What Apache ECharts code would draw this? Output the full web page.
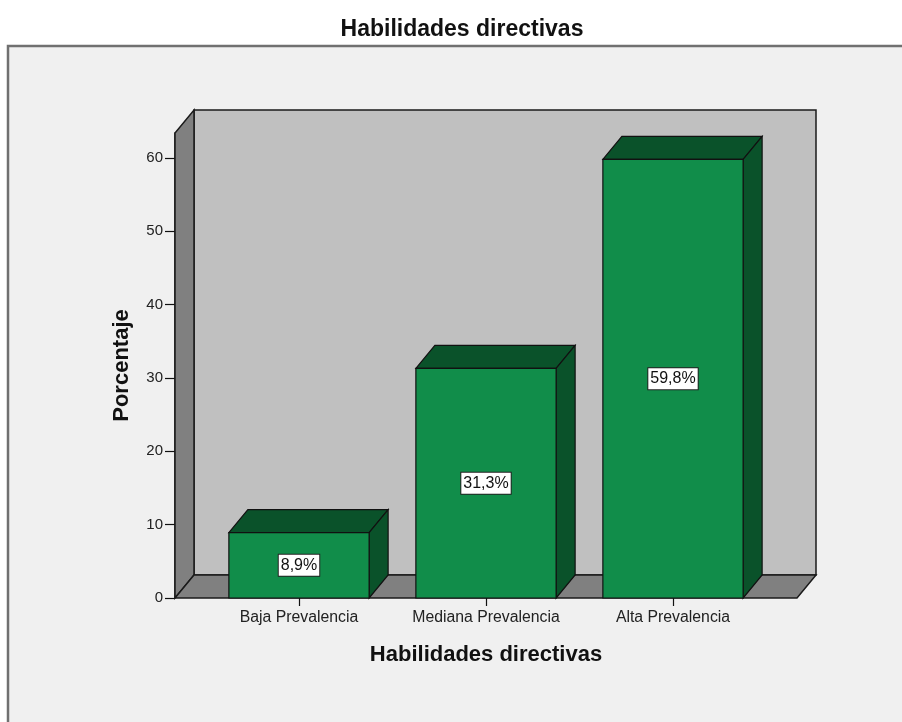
<!DOCTYPE html>
<html>
<head>
<meta charset="utf-8">
<script src="https://cdn.jsdelivr.net/npm/echarts@6/dist/echarts.min.js"></script>
<style>
  html, body { margin: 0; padding: 0; background: #fff; }
  #chart { width: 902px; height: 722px; }
</style>
</head>
<body>
<div id="chart"></div>
<script>
// datos del grafico
var categories = ['Baja Prevalencia', 'Mediana Prevalencia', 'Alta Prevalencia'];
var percentages = [8.9, 31.3, 59.8];
var yTicks = [0, 10, 20, 30, 40, 50, 60];

// profundidad del efecto 3D (px)
var DX = 19, DY = -23, EXT = 30.5;
var FONT = '"Liberation Sans", Arial, sans-serif';

function fmtPct(v) {
  return v.toFixed(1).replace('.', ',') + '%';
}

// paredes y piso
function renderWalls(params, api) {
  var cs = params.coordSys;
  var L = cs.x - EXT, R = cs.x + cs.width + EXT, T = cs.y, B = cs.y + cs.height;
  var line = { stroke: '#1a1a1a', lineWidth: 1.5 };
  return {
    type: 'group',
    children: [
      { type: 'polygon', shape: { points: [[L + DX, T + DY], [R + DX, T + DY], [R + DX, B + DY], [L + DX, B + DY]] },
        style: Object.assign({ fill: '#c0c0c0' }, line) },
      { type: 'polygon', shape: { points: [[L, B], [L, T], [L + DX, T + DY], [L + DX, B + DY]] },
        style: Object.assign({ fill: '#808080' }, line) },
      { type: 'polygon', shape: { points: [[L, B], [L + DX, B + DY], [R + DX, B + DY], [R, B]] },
        style: Object.assign({ fill: '#808080' }, line) }
    ]
  };
}

// barras 3D
function renderBar(params, api) {
  var idx = api.value(0), v = api.value(1);
  var top = api.coord([idx, v]);
  var base = api.coord([idx, 0]);
  var bw = api.size([1, 0])[0] * 0.75;
  var x0 = top[0] - bw / 2, x1 = top[0] + bw / 2, y0 = top[1], y1 = base[1];
  var line = { stroke: '#111', lineWidth: 1.2 };
  return {
    type: 'group',
    children: [
      { type: 'polygon', shape: { points: [[x0, y0], [x0 + DX, y0 + DY], [x1 + DX, y0 + DY], [x1, y0]] },
        style: Object.assign({ fill: '#0a522a' }, line) },
      { type: 'polygon', shape: { points: [[x1, y0], [x1 + DX, y0 + DY], [x1 + DX, y1 + DY], [x1, y1]] },
        style: Object.assign({ fill: '#0a522a' }, line) },
      { type: 'rect', shape: { x: x0, y: y0, width: bw, height: y1 - y0 },
        style: Object.assign({ fill: '#118d4a' }, line) },
      { type: 'text', x: top[0], y: (y0 + y1) / 2,
        style: { text: fmtPct(v), align: 'center', verticalAlign: 'middle',
                 font: '16px ' + FONT, fill: '#111',
                 backgroundColor: '#fff', borderColor: '#222', borderWidth: 1, padding: [3, 2, 2, 2] } }
    ]
  };
}

var chart = echarts.init(document.getElementById('chart'));
var option = {
  backgroundColor: '#fff',
  animation: false,
  title: {
    text: 'Habilidades directivas',
    left: 457, top: 13, textAlign: 'center',
    textStyle: { fontFamily: FONT, fontSize: 23, fontWeight: 'bold', color: '#111' }
  },
  graphic: [{
    type: 'rect', z: -10,
    shape: { x: 8, y: 46, width: 1000, height: 1000 },
    style: { fill: '#f0f0f0', stroke: '#707070', lineWidth: 2.5 }
  }],
  grid: { left: 205.5, right: 135.5, top: 133, bottom: 124 },
  xAxis: {
    type: 'category',
    data: categories,
    name: 'Habilidades directivas',
    nameLocation: 'middle',
    nameGap: 46,
    nameTextStyle: { fontFamily: FONT, fontSize: 22, fontWeight: 'bold', color: '#111' },
    axisLine: { show: false },
    axisTick: { show: true, alignWithLabel: true, interval: 0, length: 8, lineStyle: { color: '#111', width: 1.2 } },
    axisLabel: { fontFamily: FONT, fontSize: 15.8, color: '#222', margin: 12, interval: 0, hideOverlap: false }
  },
  yAxis: {
    type: 'value',
    min: 0, max: 63.4,
    offset: 30.5,
    name: 'Porcentaje',
    nameLocation: 'middle',
    nameGap: 42,
    nameRotate: 90,
    nameTextStyle: { fontFamily: FONT, fontSize: 22, fontWeight: 'bold', color: '#111' },
    splitLine: { show: false },
    axisLine: { show: true, lineStyle: { color: '#111', width: 1.5 } },
    axisTick: { show: true, inside: false, length: 10, customValues: yTicks, lineStyle: { color: '#111', width: 1.2 } },
    axisLabel: { fontFamily: FONT, fontSize: 15, color: '#222', margin: 12, customValues: yTicks }
  },
  series: [
    { type: 'custom', silent: true, clip: false, z: 1, renderItem: renderWalls, data: [[0, 0]] },
    { type: 'custom', clip: false, z: 3, renderItem: renderBar,
      data: percentages.map(function (p, i) { return [i, p]; }) }
  ]
};
chart.setOption(option);
</script>
</body>
</html>
